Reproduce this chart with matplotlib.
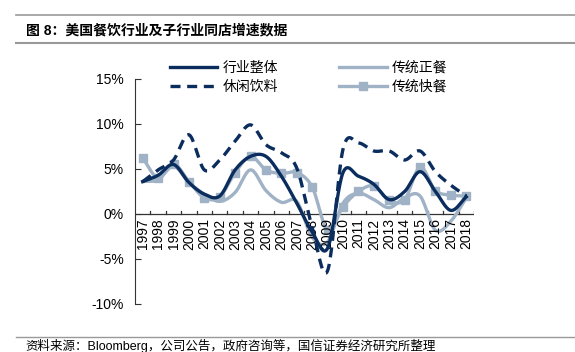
import matplotlib
matplotlib.use('Agg')
import matplotlib.pyplot as plt
from matplotlib.lines import Line2D
import numpy as np

plt.rcParams['font.family'] = ['Liberation Sans', 'Noto Sans CJK SC']

years = [str(y) for y in range(1997, 2019)]

# 同店增速 (%)
industry = [3.6, 4.3, 5.5, 3.5, 2.2, 2.0, 4.9, 6.4, 6.4, 4.2, 1.2, -2.0, -3.8,
            4.6, 4.2, 3.3, 1.6, 2.5, 4.7, 2.5, 0.4, 1.9]
casual = [3.6, 4.9, 6.0, 8.8, 4.9, 6.0, 8.1, 9.9, 7.7, 6.8, 5.1, -1.5, -6.3,
          7.2, 7.9, 7.0, 7.0, 6.0, 7.0, 4.7, 3.2, 2.0]
fullservice = [3.6, 3.8, 5.3, 3.5, 2.2, 1.4, 2.4, 4.9, 2.6, 1.3, 1.4, -2.6, -3.1,
               1.2, 2.3, 1.6, 0.7, 1.8, 2.0, -1.8, -0.8, 1.8]
quickservice = [6.2, 4.0, 5.6, 3.6, 1.8, 1.9, 4.6, 6.4, 4.9, 4.5, 4.6, 3.0, -1.8,
                0.8, 2.5, 3.1, 1.5, 1.6, 5.2, 2.6, 2.1, 2.0]

dark = '#0b2d5e'
light = '#a0b2c6'


def smooth(x, y, n=20):
    # catmull-rom style curve through the points, like excel smoothed lines
    x = np.asarray(x, float)
    y = np.asarray(y, float)
    px = np.concatenate([[2 * x[0] - x[1]], x, [2 * x[-1] - x[-2]]])
    py = np.concatenate([[2 * y[0] - y[1]], y, [2 * y[-1] - y[-2]]])
    xs, ys = [], []
    for i in range(1, len(px) - 2):
        t = np.linspace(0, 1, n, endpoint=False)
        for p, out in ((px, xs), (py, ys)):
            p0, p1, p2, p3 = p[i - 1], p[i], p[i + 1], p[i + 2]
            out.extend(0.5 * ((2 * p1) + (-p0 + p2) * t +
                              (2 * p0 - 5 * p1 + 4 * p2 - p3) * t ** 2 +
                              (-p0 + 3 * p1 - 3 * p2 + p3) * t ** 3))
    xs.append(x[-1])
    ys.append(y[-1])
    return np.array(xs), np.array(ys)


fig = plt.figure(figsize=(5.75, 3.52), dpi=100)
ax = fig.add_axes([0.2348, 0.1364, 0.5895, 0.6392])

x = np.arange(len(years))
sx, sy = smooth(x, fullservice)
ax.plot(sx, sy, color=light, lw=2.4, zorder=2)
sx, sy = smooth(x, quickservice)
ax.plot(sx, sy, color=light, lw=2.4, zorder=3)
ax.plot(x, quickservice, ls='none', marker='s', ms=6, color=light, zorder=3)
sx, sy = smooth(x, industry)
ax.plot(sx, sy, color=dark, lw=2.4, zorder=4)
sx, sy = smooth(x, casual)
ax.plot(sx, sy, color=dark, lw=2.4, ls=(0, (3, 2)), zorder=4)

ax.set_xlim(-0.5, len(years) - 0.5)
ax.set_ylim(-10, 15)
ax.set_yticks([-10, -5, 0, 5, 10, 15])
ax.set_yticklabels(['-10%', '-5%', '0%', '5%', '10%', '15%'], fontsize=10)

for s in ['top', 'right', 'bottom']:
    ax.spines[s].set_visible(False)
ax.spines['left'].set_color('#333333')
ax.tick_params(axis='y', direction='in', length=4, color='#333333', pad=8)

# category axis drawn at 0
ax.axhline(0, color='#333333', lw=0.9, zorder=1)
ax.set_xticks([])
for i in range(len(years)):
    ax.plot([i + 0.5, i + 0.5], [0, 0.35], color='#333333', lw=0.9, zorder=1)
    ax.text(i, -0.5, years[i], rotation=90, ha='center', va='top', fontsize=10)

handles = [
    Line2D([], [], color=dark, lw=2.4),
    Line2D([], [], color=dark, lw=2.4, ls=(0, (3, 2))),
    Line2D([], [], color=light, lw=2.4),
    Line2D([], [], color=light, lw=2.4, marker='s', ms=6),
]
labels = ['行业整体', '休闲饮料', '传统正餐', '传统快餐']
fig.legend(handles, labels, ncol=2, loc='center', bbox_to_anchor=(0.537, 0.781),
           frameon=False, fontsize=10, handlelength=3.4, columnspacing=4.4,
           labelspacing=0.35, handletextpad=0.4)

fig.add_artist(Line2D([0.028, 1], [1 - 15 / 352] * 2, color='#999999', lw=1.2))
fig.add_artist(Line2D([0.028, 1], [1 - 43 / 352] * 2, color='#999999', lw=1.5))
fig.add_artist(Line2D([0.028, 1], [1 - 337 / 352] * 2, color='#999999', lw=1.0))
fig.text(0.045, 1 - 30 / 352, '图 8：美国餐饮行业及子行业同店增速数据', fontsize=10,
         fontweight='bold', va='center', ha='left')
fig.text(0.045, 1 - 345.5 / 352, '资料来源：Bloomberg，公司公告，政府咨询等，国信证券经济研究所整理',
         fontsize=9, va='center', ha='left')

fig.savefig('out.png', dpi=100)
